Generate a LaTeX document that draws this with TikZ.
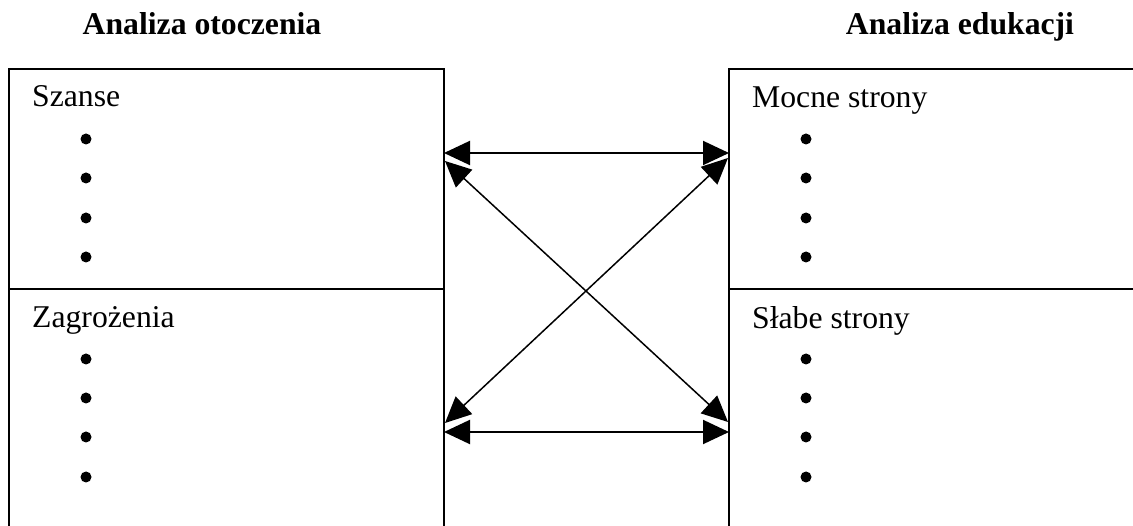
\documentclass[tikz,border=0pt]{standalone}
\usepackage{fontspec}
\setmainfont{Liberation Serif}
\usetikzlibrary{arrows.meta}
\begin{document}
\begin{tikzpicture}[x=1pt,y=-1pt,
  frame/.style={line width=2pt},
  label/.style={anchor=base west,inner sep=0pt,font=\fontsize{31.7}{38}\selectfont},
  heading/.style={anchor=base,inner sep=0pt,font=\fontsize{31.7}{38}\selectfont\bfseries},
  dot/.style={circle,fill=black,inner sep=0pt,minimum size=11pt},
  link/.style={{Triangle[length=26pt,width=24pt]}-{Triangle[length=26pt,width=24pt]},line width=2pt},
  cross/.style={{Triangle[length=26pt,width=24pt]}-{Triangle[length=26pt,width=24pt]},line width=1.5pt}]
\useasboundingbox (0,0) rectangle (1133,526);

% headings
\node[heading] (hl) at (202,35) {Analiza otoczenia};
\node[heading] (hr) at (960,35) {Analiza edukacji};

% left column: opportunities / threats
\draw[frame] (9,526) -- (9,69) -- (444,69) -- (444,526);
\draw[frame] (9,289) -- (444,289);
% right column: strengths / weaknesses
\draw[frame] (729,526) -- (729,69) -- (1133,69);
\draw[frame] (729,289) -- (1133,289);

\node[label] (szanse) at (32,107) {Szanse};
\node[label] (zagr) at (32,328) {Zagrożenia};
\node[label] (mocne) at (752,108) {Mocne strony};
\node[label] (slabe) at (752,329) {Słabe strony};

\foreach \y [count=\i] in {139,178,218,257} {
  \node[dot] (sl\i) at (86,\y) {};
  \node[dot] (sr\i) at (806,\y) {};
}
\foreach \y [count=\i] in {359,398,437,477} {
  \node[dot] (zl\i) at (86,\y) {};
  \node[dot] (zr\i) at (806,\y) {};
}

% arrow end points on the column edges
\coordinate (lt) at (444,153);
\coordinate (rt) at (729,153);
\coordinate (lb) at (444,432);
\coordinate (rb) at (729,432);
\coordinate (ltd) at (445,161);
\coordinate (rtd) at (728,158);
\coordinate (lbd) at (445,423);
\coordinate (rbd) at (728,422);

\draw[link] (lt) -- (rt);
\draw[link] (lb) -- (rb);
\draw[cross] (ltd) -- (rbd);
\draw[cross] (rtd) -- (lbd);
\end{tikzpicture}
\end{document}
